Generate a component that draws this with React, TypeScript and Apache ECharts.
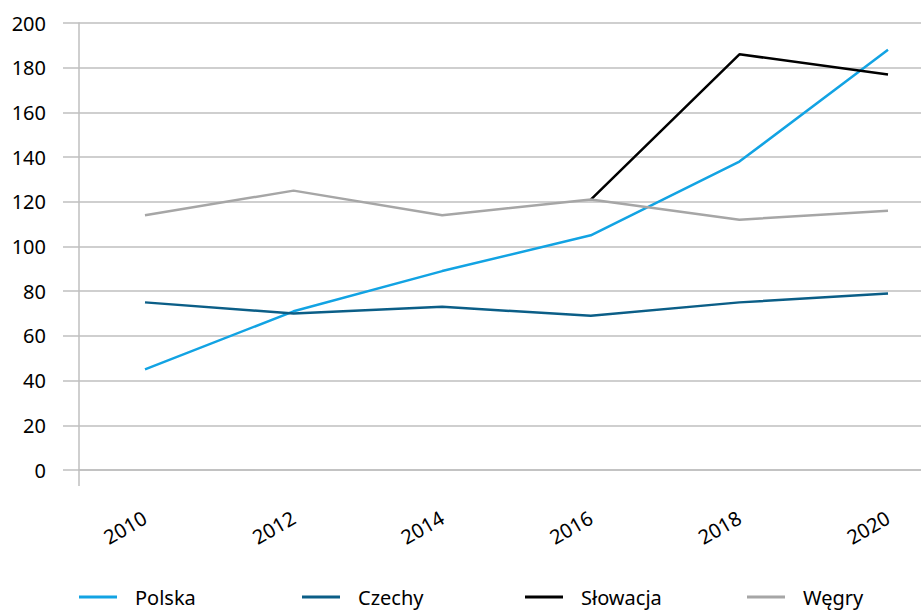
import React, { useEffect, useRef } from "react";
import * as echarts from "echarts";

const years = [2010, 2012, 2014, 2016, 2018, 2020];
const polska = [45, 71, 89, 105, 138, 188];
const czechy = [75, 70, 73, 69, 75, 79];
const slowacjaYears = [2016, 2018, 2020];
const slowacja = [121, 186, 177];
const wegry = [114, 125, 114, 121, 112, 116];
const yTicks = [0, 20, 40, 60, 80, 100, 120, 140, 160, 180, 200];
const legendNames = ["Polska", "Czechy", "Słowacja", "Węgry"];

const X_MIN = 2009.112;
const X_MAX = 2020.444;
const GRID = "#bfbfbf";
const FONT = "Noto Sans";

const pairs = (xs: number[], ys: number[]) => xs.map((x, i) => [x, ys[i]]);

export default function App() {
  const ref = useRef<HTMLDivElement>(null);
  useEffect(() => {
    if (!ref.current) return;
    const chart = echarts.init(ref.current, undefined, { renderer: "svg" });
    const line = (name: string, color: string, data: number[][]) => ({
      name,
      type: "line",
      data,
      symbol: "none",
      lineStyle: { color, width: 2.5 },
      itemStyle: { color },
    });
    const legendLefts = [79, 302, 525, 747];
    chart.setOption({
      animation: false,
      backgroundColor: "#fff",
      textStyle: { fontFamily: FONT },
      grid: { left: 79, right: 0, top: 23, bottom: 140, containLabel: false },
      xAxis: {
        type: "value",
        min: X_MIN,
        max: X_MAX,
        splitLine: { show: false },
        axisLine: { show: true, lineStyle: { color: GRID, width: 1.5 } },
        axisTick: {
          show: true,
          customValues: [X_MIN],
          length: 16,
          lineStyle: { color: GRID, width: 1.5 },
        },
        axisLabel: {
          customValues: years,
          rotate: 30,
          margin: 46,
          fontSize: 20,
          color: "#000",
          fontFamily: FONT,
          formatter: (v: number) => String(Math.round(v)),
        },
      },
      yAxis: {
        type: "value",
        min: 0,
        max: 200,
        interval: 20,
        axisLine: { show: true, lineStyle: { color: GRID, width: 1.5 } },
        axisTick: { show: true, length: 16, lineStyle: { color: GRID, width: 1.5 } },
        splitLine: { show: true, lineStyle: { color: GRID, width: 1.5 } },
        axisLabel: {
          margin: 33,
          fontSize: 20,
          color: "#000",
          fontFamily: FONT,
          formatter: (v: number) => (yTicks.includes(v) ? String(v) : ""),
        },
      },
      legend: legendNames.map((n, i) => ({
        left: legendLefts[i],
        top: 586,
        padding: 0,
        itemGap: 0,
        itemWidth: 38,
        itemHeight: 3,
        icon: "rect",
        textStyle: {
          fontSize: 20,
          lineHeight: 22,
          color: "#000",
          fontFamily: FONT,
          padding: [0, 0, 0, 13],
        },
        data: [n],
      })),
      series: [
        line("Polska", "#12a3e3", pairs(years, polska)),
        line("Czechy", "#0b5e87", pairs(years, czechy)),
        line("Słowacja", "#000000", pairs(slowacjaYears, slowacja)),
        line("Węgry", "#a6a6a6", pairs(years, wegry)),
      ],
    });
    return () => chart.dispose();
  }, []);
  return (
    <div
      ref={ref}
      style={{ position: "fixed", left: 0, top: 0, width: 921, height: 610 }}
    />
  );
}
